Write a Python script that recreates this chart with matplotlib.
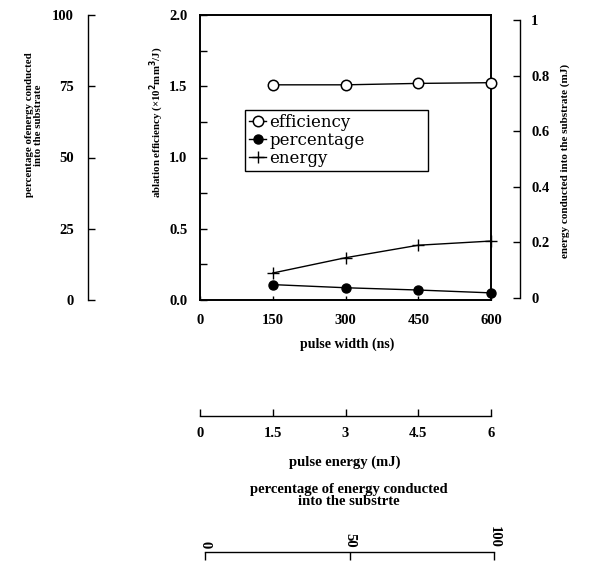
import matplotlib
matplotlib.use("Agg")
import matplotlib.pyplot as plt
from matplotlib.ticker import MultipleLocator

# data
pulse_width = [150, 300, 450, 600]          # ns
efficiency = [1.51, 1.51, 1.52, 1.525]      # x10^2 mm^3/J
percentage = [5.4, 4.3, 3.5, 2.5]           # %
energy = [0.09, 0.145, 0.19, 0.205]         # mJ

width_ticks = [0, 150, 300, 450, 600]
eff_ticks = [0.0, 0.5, 1.0, 1.5, 2.0]
pct_ticks = [0, 25, 50, 75, 100]
energy_ticks = [0, 0.2, 0.4, 0.6, 0.8, 1]
energy_tick_labels = ["0", "0.2", "0.4", "0.6", "0.8", "1"]
pulse_energy_ticks = [0, 1.5, 3, 4.5, 6]
pulse_energy_labels = ["0", "1.5", "3", "4.5", "6"]
pct2_ticks = [0, 50, 100]

W, H = 590, 564
plt.rcParams["font.family"] = ["Liberation Serif", "DejaVu Serif"]
plt.rcParams["font.weight"] = "bold"
plt.rcParams["axes.labelweight"] = "bold"
tick_fs = 10.5

fig = plt.figure(figsize=(W / 100, H / 100), dpi=100)

def px(x0, y0, x1, y1):
    return [x0 / W, 1 - y1 / H, (x1 - x0) / W, (y1 - y0) / H]

# main axes: ablation efficiency vs pulse width
ax = fig.add_axes(px(200, 15, 491, 300))
for s in ax.spines.values():
    s.set_linewidth(1.4)
ax.plot(pulse_width, efficiency, "-o", color="black", lw=1, ms=7.5,
        mfc="white", mec="black", mew=1.1, label="efficiency", zorder=3,
        clip_on=False)
ax.set_xlim(0, 600)
ax.set_ylim(0, 2)
ax.set_xticks(width_ticks)
ax.set_yticks(eff_ticks)
ax.set_yticklabels(["0.0", "0.5", "1.0", "1.5", "2.0"])
ax.yaxis.set_minor_locator(MultipleLocator(0.25))
ax.tick_params(axis="y", which="both", direction="in", length=5, width=1,
               pad=9, labelsize=tick_fs, right=False)
ax.tick_params(axis="x", direction="in", length=3, width=1, pad=10,
               labelsize=tick_fs, top=False)
ax.set_xlabel("pulse width (ns)", fontsize=10)
ax.xaxis.set_label_coords(0.505, -0.13)
ax.set_ylabel("ablation efficiency (\u00d710$^2$mm$^3$/J)", fontsize=7.8)
ax.yaxis.set_label_coords(-0.117, 0.625)

# percentage of energy (far left axis)
ax_p = ax.twinx()
ax_p.plot(pulse_width, percentage, "-o", color="black", lw=1, ms=6.5,
          label="percentage", zorder=3, clip_on=False)
ax_p.set_ylim(0, 100)
ax_p.set_yticks(pct_ticks)
ax_p.yaxis.tick_left()
ax_p.yaxis.set_label_position("left")
for k in ["right", "top", "bottom"]:
    ax_p.spines[k].set_visible(False)
ax_p.spines["left"].set_position(("outward", 112 * 0.72))
ax_p.spines["left"].set_linewidth(1)
ax_p.tick_params(axis="y", direction="in", length=5, width=1, pad=10,
                 labelsize=tick_fs)
ax_p.set_ylabel("percentage ofenergy conducted\ninto the substrate",
                fontsize=7.8, linespacing=0.95)
ax_p.yaxis.set_label_coords(-0.54, 0.614)

# energy conducted (right axis)
ax_e = ax.twinx()
ax_e.plot(pulse_width, energy, "-+", color="black", lw=1, ms=8, mew=1,
          label="energy", zorder=3, clip_on=False)
ax_e.set_ylim(-0.007, 1.018)
ax_e.set_yticks(energy_ticks)
ax_e.set_yticklabels(energy_tick_labels)
for k in ["left", "top", "bottom"]:
    ax_e.spines[k].set_visible(False)
ax_e.spines["right"].set_position(("outward", 29 * 0.72))
ax_e.spines["right"].set_bounds(0, 1)
ax_e.spines["right"].set_linewidth(1)
ax_e.tick_params(axis="y", direction="in", length=5, width=1, pad=8,
                 labelsize=tick_fs)
ax_e.set_ylabel("energy conducted into the substrate (mJ)", fontsize=8)
ax_e.yaxis.set_label_coords(1.24, 0.488)

# pulse energy (bottom axis)
ax_pe = ax.twiny()
ax_pe.set_xlim(0, 6)
ax_pe.set_xticks(pulse_energy_ticks)
ax_pe.set_xticklabels(pulse_energy_labels)
ax_pe.xaxis.tick_bottom()
ax_pe.xaxis.set_label_position("bottom")
for k in ["left", "right", "top"]:
    ax_pe.spines[k].set_visible(False)
ax_pe.spines["bottom"].set_position(("outward", 116 * 0.72))
ax_pe.spines["bottom"].set_linewidth(1)
ax_pe.tick_params(axis="x", direction="in", length=5, width=1, pad=8,
                  labelsize=tick_fs)
ax_pe.set_xlabel("pulse energy (mJ)", fontsize=10.5)
ax_pe.xaxis.set_label_coords(0.498, -0.547)

# percentage (lowest axis, rotated labels)
ax_pb = fig.add_axes(px(205, 552, 494, 560))
ax_pb.set_xlim(0, 100)
ax_pb.set_xticks(pct2_ticks)
ax_pb.set_yticks([])
ax_pb.xaxis.tick_top()
ax_pb.xaxis.set_label_position("top")
for k in ["left", "right", "bottom"]:
    ax_pb.spines[k].set_visible(False)
ax_pb.spines["top"].set_linewidth(1)
ax_pb.patch.set_alpha(0)
ax_pb.tick_params(axis="x", direction="in", length=6, width=1, pad=3,
                  labelsize=tick_fs, labelrotation=-90)
ax_pb.set_xlabel("percentage of energy conducted\ninto the substrte",
                 fontsize=10.5, linespacing=0.9)
ax_pb.xaxis.set_label_coords(0.498, 6.9)

# legend
handles = [ax.lines[0], ax_p.lines[0], ax_e.lines[0]]
leg = ax_e.legend(handles, [h.get_label() for h in handles],
                  loc="upper left", bbox_to_anchor=(0.155, 0.3, 0.629, 0.367),
                  mode="expand", borderaxespad=0, fancybox=False,
                  edgecolor="black", framealpha=1, handlelength=1.0,
                  handletextpad=0.2, labelspacing=0.05, borderpad=0.25,
                  prop={"family": "DejaVu Serif", "size": 12, "weight": "normal"})
leg.get_frame().set_linewidth(1)

fig.savefig("out.png", dpi=100)
